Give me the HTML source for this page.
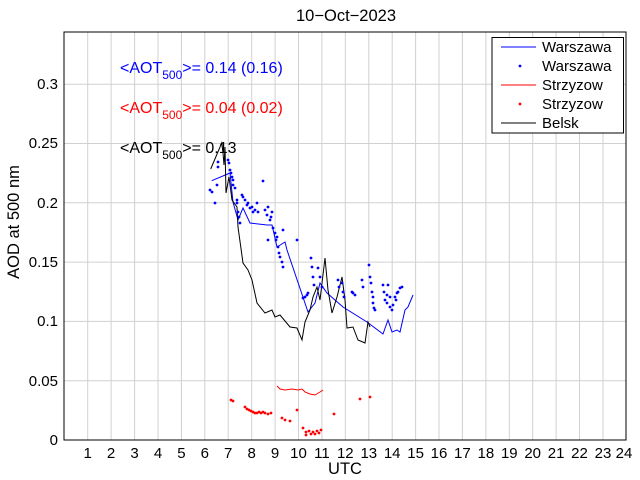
<!DOCTYPE html>
<html><head><meta charset="utf-8"><style>body{margin:0;background:#fff}svg{display:block}text{font-family:"Liberation Sans",sans-serif}</style></head><body>
<svg width="640" height="480" viewBox="0 0 640 480" xmlns="http://www.w3.org/2000/svg">
<rect width="640" height="480" fill="#fff"/>
<g stroke="#d0d0d0" stroke-width="1">
<line x1="87.7" y1="32" x2="87.7" y2="440"/><line x1="111.1" y1="32" x2="111.1" y2="440"/><line x1="134.6" y1="32" x2="134.6" y2="440"/><line x1="158" y1="32" x2="158" y2="440"/><line x1="181.4" y1="32" x2="181.4" y2="440"/><line x1="204.8" y1="32" x2="204.8" y2="440"/><line x1="228.2" y1="32" x2="228.2" y2="440"/><line x1="251.7" y1="32" x2="251.7" y2="440"/><line x1="275.1" y1="32" x2="275.1" y2="440"/><line x1="298.5" y1="32" x2="298.5" y2="440"/><line x1="321.9" y1="32" x2="321.9" y2="440"/><line x1="345.3" y1="32" x2="345.3" y2="440"/><line x1="368.8" y1="32" x2="368.8" y2="440"/><line x1="392.2" y1="32" x2="392.2" y2="440"/><line x1="415.6" y1="32" x2="415.6" y2="440"/><line x1="439" y1="32" x2="439" y2="440"/><line x1="462.4" y1="32" x2="462.4" y2="440"/><line x1="485.9" y1="32" x2="485.9" y2="440"/><line x1="509.3" y1="32" x2="509.3" y2="440"/><line x1="532.7" y1="32" x2="532.7" y2="440"/><line x1="556.1" y1="32" x2="556.1" y2="440"/><line x1="579.5" y1="32" x2="579.5" y2="440"/><line x1="603" y1="32" x2="603" y2="440"/>
<line x1="64" y1="380.7" x2="626" y2="380.7"/><line x1="64" y1="321.4" x2="626" y2="321.4"/><line x1="64" y1="262.1" x2="626" y2="262.1"/><line x1="64" y1="202.8" x2="626" y2="202.8"/><line x1="64" y1="143.5" x2="626" y2="143.5"/><line x1="64" y1="84.2" x2="626" y2="84.2"/>
</g>
<rect x="64" y="32" width="562" height="408" fill="none" stroke="#000" stroke-width="1"/>
<g font-size="15" fill="#000" text-anchor="end">
<text x="58" y="445">0</text><text x="58" y="386">0.05</text><text x="58" y="326">0.1</text><text x="58" y="267">0.15</text><text x="58" y="208">0.2</text><text x="58" y="148">0.25</text><text x="58" y="89">0.3</text>
</g>
<g font-size="15" fill="#000" text-anchor="middle">
<text x="87.7" y="458">1</text><text x="111.1" y="458">2</text><text x="134.6" y="458">3</text><text x="158" y="458">4</text><text x="181.4" y="458">5</text><text x="204.8" y="458">6</text><text x="228.2" y="458">7</text><text x="251.7" y="458">8</text><text x="275.1" y="458">9</text><text x="298.5" y="458">10</text><text x="321.9" y="458">11</text><text x="345.3" y="458">12</text><text x="368.8" y="458">13</text><text x="392.2" y="458">14</text><text x="415.6" y="458">15</text><text x="439" y="458">16</text><text x="462.4" y="458">17</text><text x="485.9" y="458">18</text><text x="509.3" y="458">19</text><text x="532.7" y="458">20</text><text x="556.1" y="458">21</text><text x="579.5" y="458">22</text><text x="603" y="458">23</text><text x="624" y="458">24</text>
</g>
<g font-size="16.5" fill="#000" text-anchor="middle">
<text x="345" y="474">UTC</text>
<text x="346" y="21">10−Oct−2023</text>
<text transform="translate(19,222) rotate(-90)">AOD at 500 nm</text>
</g>
<g font-size="16">
<text x="120" y="73" fill="#00f">&lt;AOT<tspan font-size="12" dy="6">500</tspan><tspan dy="-6">&gt;= 0.14 (0.16)</tspan></text>
<text x="120" y="113" fill="#f00">&lt;AOT<tspan font-size="12" dy="6">500</tspan><tspan dy="-6">&gt;= 0.04 (0.02)</tspan></text>
<text x="120" y="153" fill="#000">&lt;AOT<tspan font-size="12" dy="6">500</tspan><tspan dy="-6">&gt;= 0.13</tspan></text>
</g>
<polyline fill="none" stroke="#00f" stroke-width="1" points="211.7,180.7 230,173 233,202 238,220 243,208 250,223 267,225 272,225 277,247 285,242 287,250 308,312 315,303 320,283 327,293 343,307 367,322 383,334 388,320 392,332 397,330 400,332 405,310 408,307 413,295"/>
<polyline fill="none" stroke="#000" stroke-width="1" points="210.7,169 221.7,143 223,153 224,165 225,147 226,193 229,177 232,200 237,207 238,227 243,263 248,270 252,280 257,303 265,313 272,310 275,317 280,315 290,327 297,328 302,340 305,322 310,310 313,297 317,287 320,300 325,258 328,290 332,313 337,297 342,277 345,300 347,328 353,327 358,340 365,343 368,322 370,327"/>
<polyline fill="none" stroke="#f00" stroke-width="1" points="277,386 280,389 285,390 292,389 298,390 302,389 305,392 310,394 315,395 320,392 323,390"/>
<g fill="#00f">
<circle cx="210" cy="190" r="1.4"/><circle cx="212" cy="192" r="1.4"/><circle cx="215" cy="203" r="1.4"/><circle cx="217" cy="185" r="1.4"/><circle cx="218" cy="162" r="1.4"/><circle cx="218" cy="167" r="1.4"/><circle cx="228" cy="160" r="1.4"/><circle cx="229" cy="163" r="1.4"/><circle cx="230" cy="170" r="1.4"/><circle cx="231" cy="173" r="1.4"/><circle cx="232" cy="177" r="1.4"/><circle cx="233" cy="180" r="1.4"/><circle cx="233" cy="185" r="1.4"/><circle cx="235" cy="188" r="1.4"/><circle cx="237" cy="200" r="1.4"/><circle cx="237" cy="203" r="1.4"/><circle cx="238" cy="212" r="1.4"/><circle cx="239" cy="217" r="1.4"/><circle cx="240" cy="223" r="1.4"/><circle cx="242" cy="195" r="1.4"/><circle cx="243" cy="197" r="1.4"/><circle cx="245" cy="200" r="1.4"/><circle cx="247" cy="205" r="1.4"/><circle cx="248" cy="203" r="1.4"/><circle cx="250" cy="208" r="1.4"/><circle cx="252" cy="207" r="1.4"/><circle cx="253" cy="212" r="1.4"/><circle cx="255" cy="210" r="1.4"/><circle cx="257" cy="203" r="1.4"/><circle cx="258" cy="212" r="1.4"/><circle cx="263" cy="181" r="1.4"/><circle cx="265" cy="210" r="1.4"/><circle cx="267" cy="215" r="1.4"/><circle cx="268" cy="207" r="1.4"/><circle cx="270" cy="220" r="1.4"/><circle cx="271" cy="217" r="1.4"/><circle cx="272" cy="212" r="1.4"/><circle cx="273" cy="228" r="1.4"/><circle cx="275" cy="233" r="1.4"/><circle cx="276" cy="240" r="1.4"/><circle cx="277" cy="237" r="1.4"/><circle cx="278" cy="247" r="1.4"/><circle cx="279" cy="253" r="1.4"/><circle cx="280" cy="257" r="1.4"/><circle cx="282" cy="262" r="1.4"/><circle cx="283" cy="267" r="1.4"/><circle cx="283" cy="230" r="1.4"/><circle cx="268" cy="240" r="1.4"/><circle cx="297" cy="240" r="1.4"/><circle cx="311" cy="258" r="1.4"/><circle cx="312" cy="267" r="1.4"/><circle cx="305" cy="297" r="1.4"/><circle cx="307" cy="295" r="1.4"/><circle cx="308" cy="293" r="1.4"/><circle cx="303" cy="298" r="1.4"/><circle cx="313" cy="277" r="1.4"/><circle cx="314" cy="285" r="1.4"/><circle cx="318" cy="268" r="1.4"/><circle cx="320" cy="277" r="1.4"/><circle cx="322" cy="287" r="1.4"/><circle cx="338" cy="280" r="1.4"/><circle cx="339" cy="287" r="1.4"/><circle cx="342" cy="283" r="1.4"/><circle cx="343" cy="292" r="1.4"/><circle cx="344" cy="297" r="1.4"/><circle cx="352" cy="292" r="1.4"/><circle cx="353" cy="293" r="1.4"/><circle cx="355" cy="295" r="1.4"/><circle cx="362" cy="280" r="1.4"/><circle cx="363" cy="287" r="1.4"/><circle cx="369" cy="265" r="1.4"/><circle cx="370" cy="277" r="1.4"/><circle cx="371" cy="283" r="1.4"/><circle cx="372" cy="292" r="1.4"/><circle cx="373" cy="297" r="1.4"/><circle cx="373" cy="303" r="1.4"/><circle cx="374" cy="308" r="1.4"/><circle cx="375" cy="310" r="1.4"/><circle cx="383" cy="285" r="1.4"/><circle cx="385" cy="300" r="1.4"/><circle cx="387" cy="303" r="1.4"/><circle cx="388" cy="285" r="1.4"/><circle cx="390" cy="307" r="1.4"/><circle cx="392" cy="310" r="1.4"/><circle cx="393" cy="305" r="1.4"/><circle cx="395" cy="297" r="1.4"/><circle cx="397" cy="293" r="1.4"/><circle cx="398" cy="292" r="1.4"/><circle cx="400" cy="288" r="1.4"/><circle cx="402" cy="287" r="1.4"/><circle cx="390" cy="297" r="1.4"/><circle cx="387" cy="295" r="1.4"/><circle cx="384" cy="292" r="1.4"/><circle cx="396" cy="300" r="1.4"/>
</g>
<g fill="#f00">
<circle cx="231" cy="400" r="1.4"/><circle cx="233" cy="401" r="1.4"/><circle cx="245" cy="407" r="1.4"/><circle cx="247" cy="409" r="1.4"/><circle cx="249" cy="410" r="1.4"/><circle cx="251" cy="411" r="1.4"/><circle cx="253" cy="412" r="1.4"/><circle cx="255" cy="413" r="1.4"/><circle cx="257" cy="413" r="1.4"/><circle cx="259" cy="412" r="1.4"/><circle cx="261" cy="413" r="1.4"/><circle cx="263" cy="412" r="1.4"/><circle cx="265" cy="413" r="1.4"/><circle cx="268" cy="414" r="1.4"/><circle cx="271" cy="413" r="1.4"/><circle cx="282" cy="418" r="1.4"/><circle cx="285" cy="420" r="1.4"/><circle cx="290" cy="421" r="1.4"/><circle cx="297" cy="410" r="1.4"/><circle cx="303" cy="428" r="1.4"/><circle cx="306" cy="432" r="1.4"/><circle cx="306" cy="435" r="1.4"/><circle cx="309" cy="431" r="1.4"/><circle cx="311" cy="434" r="1.4"/><circle cx="313" cy="432" r="1.4"/><circle cx="315" cy="434" r="1.4"/><circle cx="317" cy="431" r="1.4"/><circle cx="319" cy="433" r="1.4"/><circle cx="321" cy="430" r="1.4"/><circle cx="334" cy="414" r="1.4"/><circle cx="360" cy="399" r="1.4"/><circle cx="370" cy="397" r="1.4"/>
</g>
<rect x="492" y="37.5" width="131.5" height="95.5" fill="#fff" stroke="#000" stroke-width="1"/>
<line x1="501" y1="47" x2="536" y2="47" stroke="#00f"/>
<circle cx="520" cy="66" r="1.4" fill="#00f"/>
<line x1="501" y1="85" x2="536" y2="85" stroke="#f00"/>
<circle cx="520" cy="104" r="1.4" fill="#f00"/>
<line x1="501" y1="123" x2="536" y2="123" stroke="#000"/>
<g font-size="15" fill="#000">
<text x="542" y="52">Warszawa</text><text x="542" y="71">Warszawa</text><text x="542" y="90">Strzyzow</text><text x="542" y="109">Strzyzow</text><text x="542" y="128">Belsk</text>
</g>
</svg>
</body></html>
